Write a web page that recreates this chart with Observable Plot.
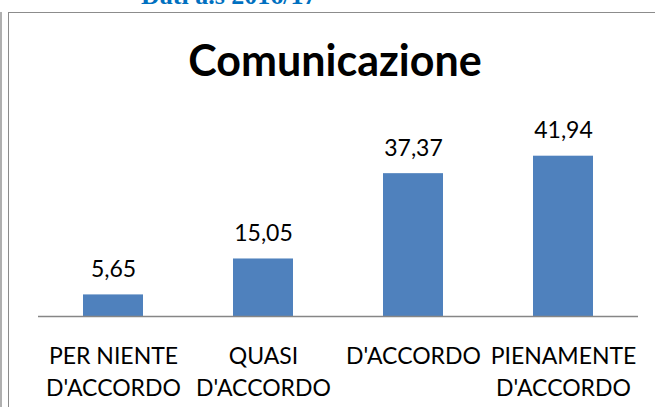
<!DOCTYPE html>
<html>
<head>
<meta charset="utf-8">
<script src="https://cdn.jsdelivr.net/npm/d3@7"></script>
<script src="https://cdn.jsdelivr.net/npm/@observablehq/plot@0.6"></script>
<style>
  html, body { margin: 0; padding: 0; background: #fff; }
  body { width: 655px; height: 407px; position: relative; overflow: hidden; }
  #top { position: absolute; left: 141px; top: -17px; font-family: "Liberation Serif", serif; font-weight: bold; font-size: 26px; line-height: 26px; color: #0070C0; white-space: nowrap; }
  #edge1 { position: absolute; left: 0; top: 12px; width: 2px; height: 400px; background: #b0b0b0; }
  #edge2 { position: absolute; left: 8px; top: 12px; width: 1px; height: 400px; background: #8c8c8c; }
  #edgeTop { position: absolute; left: 8px; top: 12px; width: 660px; height: 1px; background: #8c8c8c; }
  #title { position: absolute; left: 0; width: 670px; top: 35px; text-align: center; font-family: Lato, sans-serif; font-weight: bold; font-size: 43px; line-height: 50px; color: #000; }
  #chart { position: absolute; left: 0; top: 100px; }
</style>
</head>
<body>
<div id="top">Dati a.s 2016/17</div>
<div id="edge1"></div>
<div id="edge2"></div>
<div id="edgeTop"></div>
<div id="title">Comunicazione</div>
<div id="chart"></div>
<script>
const categories = ["PER NIENTE D'ACCORDO", "QUASI D'ACCORDO", "D'ACCORDO", "PIENAMENTE D'ACCORDO"];
const tickLabels = ["PER NIENTE\nD'ACCORDO", "QUASI\nD'ACCORDO", "D'ACCORDO", "PIENAMENTE\nD'ACCORDO"];
const values = [5.65, 15.05, 37.37, 41.94];

const data = categories.map((c, i) => ({category: c, value: values[i], label: values[i].toFixed(2).replace(".", ",")}));
const tickMap = new Map(categories.map((c, i) => [c, tickLabels[i]]));

const chart = Plot.plot({
  width: 655,
  height: 307,
  marginLeft: 38,
  marginRight: 17,
  marginTop: 44,
  marginBottom: 91,
  style: {fontFamily: "Lato, sans-serif", background: "transparent", overflow: "visible"},
  x: {domain: categories, paddingInner: 0.6, paddingOuter: 0.3, axis: null, label: null},
  y: {domain: [0, 45], axis: null},
  marks: [
    Plot.barY(data, {x: "category", y: "value", fill: "#4F81BD"}),
    Plot.ruleY([0], {stroke: "#868686", strokeWidth: 1.3}),
    Plot.text(data, {x: "category", y: "value", text: "label", lineAnchor: "bottom", dy: -18, fontSize: 23, fill: "#000"}),
    Plot.axisX({tickSize: 0, tickPadding: 25, fontSize: 23, lineHeight: 1.39, tickFormat: d => tickMap.get(d), color: "#000", label: null, textOverflow: null, lineWidth: 100})
  ]
});
chart.querySelectorAll("text").forEach(t => t.setAttribute("fill", "#000"));
document.getElementById("chart").appendChild(chart);
</script>
</body>
</html>
